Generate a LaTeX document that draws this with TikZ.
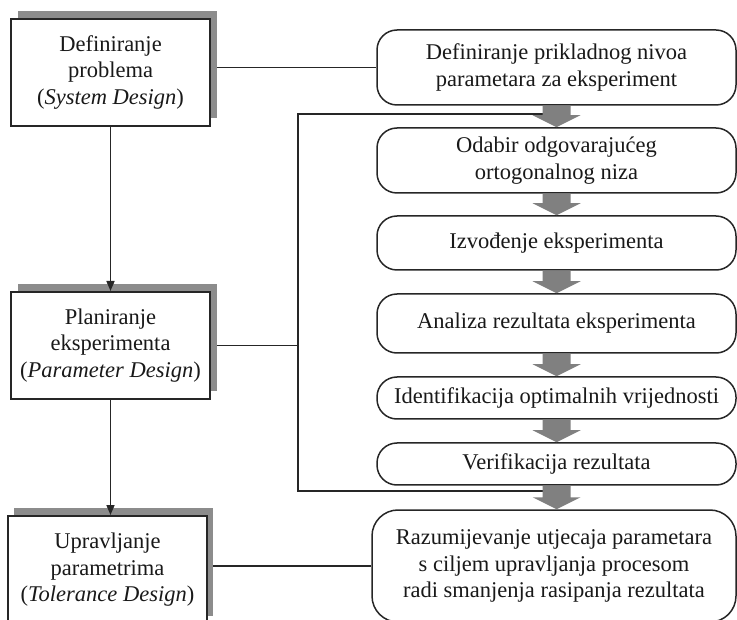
\documentclass[tikz,border=0pt]{standalone}
\usepackage{fontspec}
\setmainfont{Liberation Serif}
\usetikzlibrary{calc,arrows.meta}
\definecolor{shadowgray}{HTML}{8C8C8C}
\definecolor{arrowgray}{HTML}{808080}
\definecolor{linecol}{HTML}{262626}
\newcommand\blockarr[2]{%
  \fill[arrowgray] ($(#1.south)+(-14,0)$) -- ($(#1.south |- #2.north)+(-14,-12)$) -- ($(#1.south |- #2.north)+(-24,-12)$) -- (#1.south |- #2.north) -- ($(#1.south |- #2.north)+(24,-12)$) -- ($(#1.south |- #2.north)+(14,-12)$) -- ($(#1.south)+(14,0)$) -- cycle;}
\begin{document}
\begin{tikzpicture}[x=1pt,y=-1pt,
  every node/.style={font=\fontsize{22.5}{26.5}\selectfont, align=center, text=black!90},
  leftbox/.style={draw=linecol, line width=2pt, fill=white, minimum width=199pt, minimum height=107pt, inner sep=2pt},
  shadowbox/.style={fill=shadowgray, minimum width=199pt, minimum height=107pt, inner sep=0pt, outer sep=0pt},
  stepbox/.style={draw=linecol, line width=1.5pt, fill=white, rounded corners=20pt, minimum width=359pt, inner sep=2pt},
  conn/.style={line width=1.6pt, draw=linecol},
  ]
\useasboundingbox (0,0) rectangle (737,620);
% left boxes with shadows
\node[shadowbox] (s1) at (117.5,64.5) {};
\node[leftbox] (b1) at (110.5,72.5) {Definiranje\\problema\\(\textit{System Design})};
\node[shadowbox] (s2) at (117.5,337.5) {};
\node[leftbox] (b2) at (110.5,345.5) {Planiranje\\eksperimenta\\(\textit{Parameter Design})};
\node[shadowbox, minimum height=108pt] (s3) at (113.5,562) {};
\node[leftbox, minimum height=108pt] (b3) at (107.5,570) {Upravljanje\\parametrima\\(\textit{Tolerance Design})};
% right boxes
\node[stepbox, minimum height=75pt] (r1) at (556.5,67.5) {Definiranje prikladnog nivoa\\parametara za eksperiment};
\node[stepbox, minimum height=65pt] (r2) at (556.5,160.5) {Odabir odgovarajućeg\\ortogonalnog niza};
\node[stepbox, minimum height=54pt] (r3) at (556.5,243) {Izvođenje eksperimenta};
\node[stepbox, minimum height=59pt] (r4) at (556.5,323.5) {Analiza rezultata eksperimenta};
\node[stepbox, minimum height=42pt] (r5) at (556.5,398) {Identifikacija optimalnih vrijednosti};
\node[stepbox, minimum height=42pt] (r6) at (556.5,464) {Verifikacija rezultata};
\node[stepbox, minimum height=112pt, minimum width=364pt, rounded corners=26pt] (r7) at (554,566) {Razumijevanje utjecaja parametara\\s ciljem upravljanja procesom\\radi smanjenja rasipanja rezultata};
% connectors
\coordinate (bt) at (298,114);
\coordinate (bb) at (298,491);
\draw[conn] (r1.west -| s1.east) -- (r1.west);
\draw[conn] (bt -| r1.south) -- (bt) -- (bb) -- (bb -| r1.south);
\draw[conn] (b2.east -| s2.east) -- (b2.east -| bt);
\draw[conn] (r7.west -| s3.east) -- (r7.west);
\draw[conn, -{Triangle[length=10pt,width=8pt]}] (b1.south) -- (b2.north);
\draw[conn, -{Triangle[length=10pt,width=8pt]}] (b2.south) -- (b2.south |- b3.north);
% block arrows
\blockarr{r1}{r2}
\blockarr{r2}{r3}
\blockarr{r3}{r4}
\blockarr{r4}{r5}
\blockarr{r5}{r6}
\blockarr{r6}{r7}
\end{tikzpicture}
\end{document}
